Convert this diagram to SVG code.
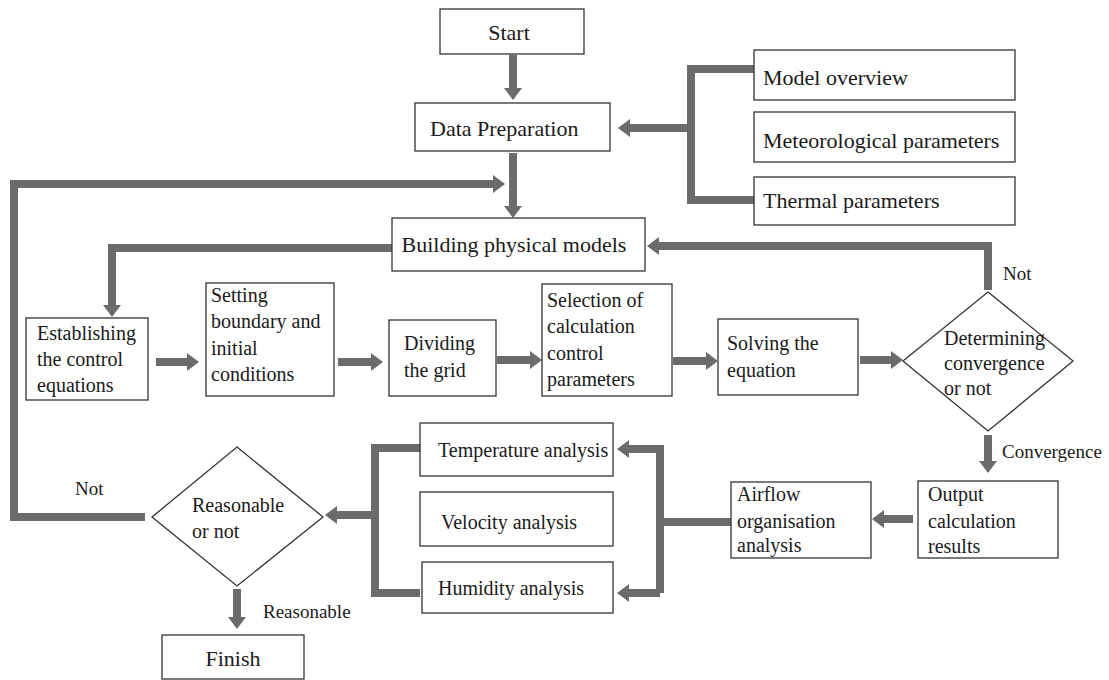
<svg xmlns="http://www.w3.org/2000/svg" width="1109" height="680" viewBox="0 0 1109 680">
<style>
.box{fill:#fff;stroke:#333;stroke-width:1.3}
.t{font-family:"Liberation Serif","Times New Roman",serif;fill:#1a1a1a}
.f22{font-size:22px}
.f20{font-size:20px}
.f19{font-size:19px}
.c{fill:none;stroke:#6b6b6b;stroke-width:8;stroke-linejoin:miter}
.a{marker-end:url(#ah)}
</style>
<defs>
<marker id="ah" markerUnits="userSpaceOnUse" markerWidth="14" markerHeight="20" viewBox="0 -10 14 20" refX="0" refY="0" orient="auto">
<path d="M0,-9 L12,0 L0,9 Z" fill="#6b6b6b"/>
</marker>
</defs>
<rect width="1109" height="680" fill="#fff"/>
<g id="connectors">
<path class="c a" d="M513,55 V88"/>
<path class="c a" d="M513,153 V206"/>
<path class="c" d="M754,69 H691 V200 H754"/>
<path class="c a" d="M691,128 H630"/>
<path class="c a" d="M145,517 H14 V184 H493"/>
<path class="c a" d="M392,248 H112 V305"/>
<path class="c a" d="M156,362 H187"/>
<path class="c a" d="M338,362 H371"/>
<path class="c a" d="M497,360 H530"/>
<path class="c a" d="M673,361 H706"/>
<path class="c a" d="M860,360 H891"/>
<path class="c a" d="M988,290 V246 H659"/>
<path class="c a" d="M988,435 V461"/>
<path class="c a" d="M913,519 H884"/>
<path class="c" d="M731,522 H660"/>
<path class="c a" d="M660,593 V449 H629"/>
<path class="c a" d="M660,593 H629"/>
<path class="c" d="M420,448 H375 V593 H420"/>
<path class="c a" d="M375,515 H337"/>
<path class="c a" d="M237,589 V617"/>
</g>
<g id="start"><rect class="box" x="440" y="9" width="144" height="45"/><text class="t f22" x="509" y="40" text-anchor="middle">Start</text></g>
<g id="data"><rect class="box" x="415" y="103" width="195" height="48"/><text class="t f22" x="430" y="136">Data Preparation</text></g>
<g id="model"><rect class="box" x="754" y="50" width="261" height="50"/><text class="t f22" x="763" y="85">Model overview</text></g>
<g id="meteo"><rect class="box" x="754" y="112" width="261" height="50"/><text class="t f22" x="763" y="148">Meteorological parameters</text></g>
<g id="thermal"><rect class="box" x="754" y="177" width="261" height="48"/><text class="t f22" x="763" y="208">Thermal parameters</text></g>
<g id="building"><rect class="box" x="392" y="218" width="253" height="53"/><text class="t f22" x="514" y="252" text-anchor="middle">Building physical models</text></g>
<g id="establish"><rect class="box" x="26" y="318" width="122" height="82"/><text class="t f20"><tspan x="37" y="340">Establishing</tspan><tspan x="37" y="366">the control</tspan><tspan x="37" y="392">equations</tspan></text></g>
<g id="setting"><rect class="box" x="206" y="283" width="128" height="113"/><text class="t f20"><tspan x="211" y="302">Setting</tspan><tspan x="211" y="328">boundary and</tspan><tspan x="211" y="355">initial</tspan><tspan x="211" y="381">conditions</tspan></text></g>
<g id="dividing"><rect class="box" x="389" y="320" width="107" height="76"/><text class="t f20"><tspan x="404" y="350">Dividing</tspan><tspan x="404" y="377">the grid</tspan></text></g>
<g id="selection"><rect class="box" x="542" y="284" width="130" height="112"/><text class="t f20"><tspan x="547" y="307">Selection of</tspan><tspan x="547" y="333">calculation</tspan><tspan x="547" y="360">control</tspan><tspan x="547" y="386">parameters</tspan></text></g>
<g id="solving"><rect class="box" x="718" y="319" width="140" height="76"/><text class="t f20"><tspan x="727" y="350">Solving the</tspan><tspan x="727" y="377">equation</tspan></text></g>
<g id="convergence"><polygon class="box" points="988,292 1073,361 988,431 903,361"/><text class="t f20"><tspan x="944" y="345">Determining</tspan><tspan x="944" y="370">convergence</tspan><tspan x="944" y="395">or not</tspan></text></g>
<text class="t f19" x="1003" y="280">Not</text>
<text class="t f19" x="1002" y="458">Convergence</text>
<g id="output"><rect class="box" x="918" y="481" width="140" height="77"/><text class="t f20"><tspan x="928" y="501">Output</tspan><tspan x="928" y="528">calculation</tspan><tspan x="928" y="553">results</tspan></text></g>
<g id="airflow"><rect class="box" x="731" y="482" width="140" height="76"/><text class="t f20"><tspan x="737" y="501">Airflow</tspan><tspan x="737" y="528">organisation</tspan><tspan x="737" y="552">analysis</tspan></text></g>
<g id="temperature"><rect class="box" x="420" y="423" width="193" height="53"/><text class="t f20" x="438" y="457">Temperature analysis</text></g>
<g id="velocity"><rect class="box" x="420" y="492" width="193" height="54"/><text class="t f20" x="441" y="529">Velocity analysis</text></g>
<g id="humidity"><rect class="box" x="422" y="562" width="191" height="51"/><text class="t f20" x="438" y="595">Humidity analysis</text></g>
<g id="reasonable"><polygon class="box" points="237,447 323,517 237,586 152,517"/><text class="t f20"><tspan x="192" y="512">Reasonable</tspan><tspan x="192" y="538">or not</tspan></text></g>
<text class="t f19" x="75" y="495">Not</text>
<text class="t f19" x="263" y="618">Reasonable</text>
<g id="finish"><rect class="box" x="162" y="635" width="142" height="44"/><text class="t f22" x="233" y="666" text-anchor="middle">Finish</text></g>
</svg>
